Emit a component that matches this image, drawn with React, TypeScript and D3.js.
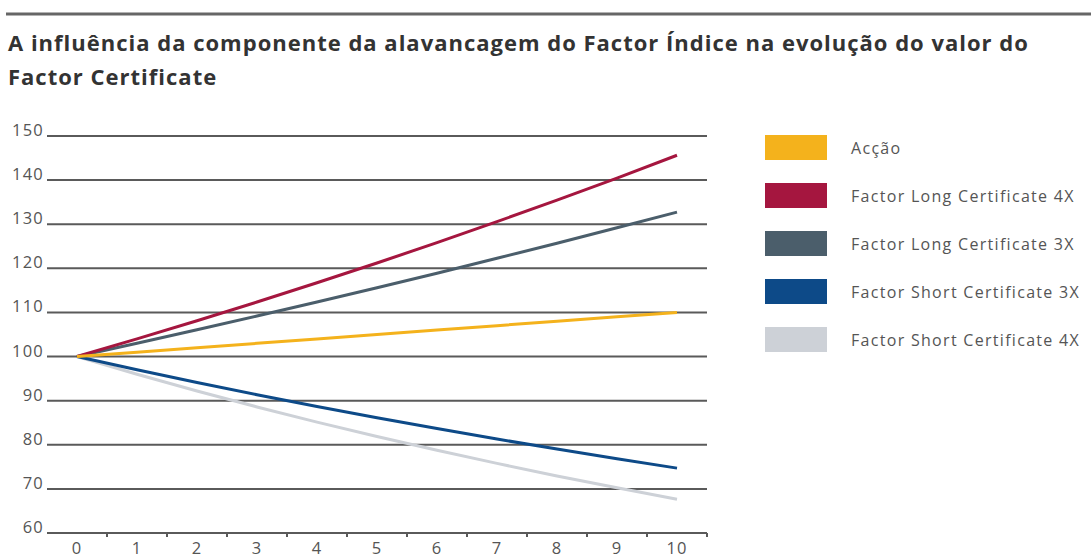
import React from 'react';
import * as d3 from 'd3';

// períodos (eixo X)
const periods = ['0', '1', '2', '3', '4', '5', '6', '7', '8', '9', '10'];
const yTicks = [60, 70, 80, 90, 100, 110, 120, 130, 140, 150];

// valores
const accao = [100, 101, 102, 103, 104, 105, 106, 107, 108, 109, 110];
const long4x = [100, 104.0, 108.12, 112.36, 116.72, 121.21, 125.83, 130.58, 135.46, 140.47, 145.63];
const long3x = [100, 103.0, 106.06, 109.18, 112.36, 115.6, 118.9, 122.27, 125.7, 129.19, 132.74];
const short3x = [100, 97.0, 94.12, 91.35, 88.69, 86.13, 83.67, 81.3, 79.02, 76.83, 74.71];
const short4x = [100, 96.0, 92.2, 88.58, 85.14, 81.87, 78.75, 75.78, 72.94, 70.24, 67.67];

const seriesNames = [
  'Acção',
  'Factor Long Certificate 4X',
  'Factor Long Certificate 3X',
  'Factor Short Certificate 3X',
  'Factor Short Certificate 4X',
];
const seriesColors = ['#f4b21c', '#a5163f', '#4b5e6b', '#0d4a88', '#cdd1d7'];
const seriesValues = [accao, long4x, long3x, short3x, short4x];
// ordem de desenho (mais claro por baixo)
const drawOrder = [4, 3, 2, 1, 0];

const W = 1091;
const H = 558;

export default function App() {
  const x = d3.scaleBand<string>().domain(periods).range([47, 707]).padding(0);
  const y = d3.scaleLinear().domain([60, 150]).range([533, 136]);
  const cx = (p: string) => (x(p) ?? 0) + x.bandwidth() / 2;

  const line = d3
    .line<number>()
    .x((_, i) => cx(periods[i]))
    .y((d) => y(d));

  const font = "'Open Sans', 'Noto Sans', sans-serif";
  const textColor = '#555';

  // limites das bandas para os pequenos traços do eixo
  const bounds = periods.slice(1).map((p) => x(p) ?? 0).concat([x.range()[1]]);

  return (
    <svg
      width={W}
      height={H}
      style={{ position: 'absolute', left: 0, top: 0, background: '#fff' }}
      fontFamily={font}
    >
      <line x1={6} x2={W} y1={14} y2={14} stroke="#666" strokeWidth={3} />
      <text x={8} y={51} fontSize={22} fontWeight={700} fill="#333" letterSpacing={1}>
        A influência da componente da alavancagem do Factor Índice na evolução do valor do
      </text>
      <text x={8} y={85} fontSize={22} fontWeight={700} fill="#333" letterSpacing={1}>
        Factor Certificate
      </text>

      {/* grelha e rótulos do eixo Y */}
      {yTicks.map((t) => (
        <g key={t}>
          <line x1={47} x2={707} y1={y(t)} y2={y(t)} stroke="#5a5a5a" strokeWidth={2} />
          <text x={44} y={y(t)} fontSize={16.5} fill={textColor} textAnchor="end" letterSpacing={1.2}>
            {t}
          </text>
        </g>
      ))}

      {/* traços do eixo X */}
      {bounds.map((b, i) => (
        <line key={i} x1={b} x2={b} y1={y(60)} y2={y(60) + 4} stroke="#5a5a5a" strokeWidth={2} />
      ))}
      {periods.map((p) => (
        <text key={p} x={cx(p)} y={554} fontSize={16.5} fill={textColor} textAnchor="middle" letterSpacing={1}>
          {p}
        </text>
      ))}

      {/* linhas */}
      {drawOrder.map((i) => (
        <path
          key={seriesNames[i]}
          d={line(seriesValues[i]) || ''}
          fill="none"
          stroke={seriesColors[i]}
          strokeWidth={3}
          strokeLinejoin="round"
        />
      ))}

      {/* legenda */}
      {seriesNames.map((name, i) => (
        <g key={name} transform={`translate(765, ${135 + i * 48})`}>
          <rect width={62} height={25} fill={seriesColors[i]} />
          <text x={86} y={19} fontSize={16} fill={textColor} letterSpacing={1.3}>
            {name}
          </text>
        </g>
      ))}
    </svg>
  );
}
